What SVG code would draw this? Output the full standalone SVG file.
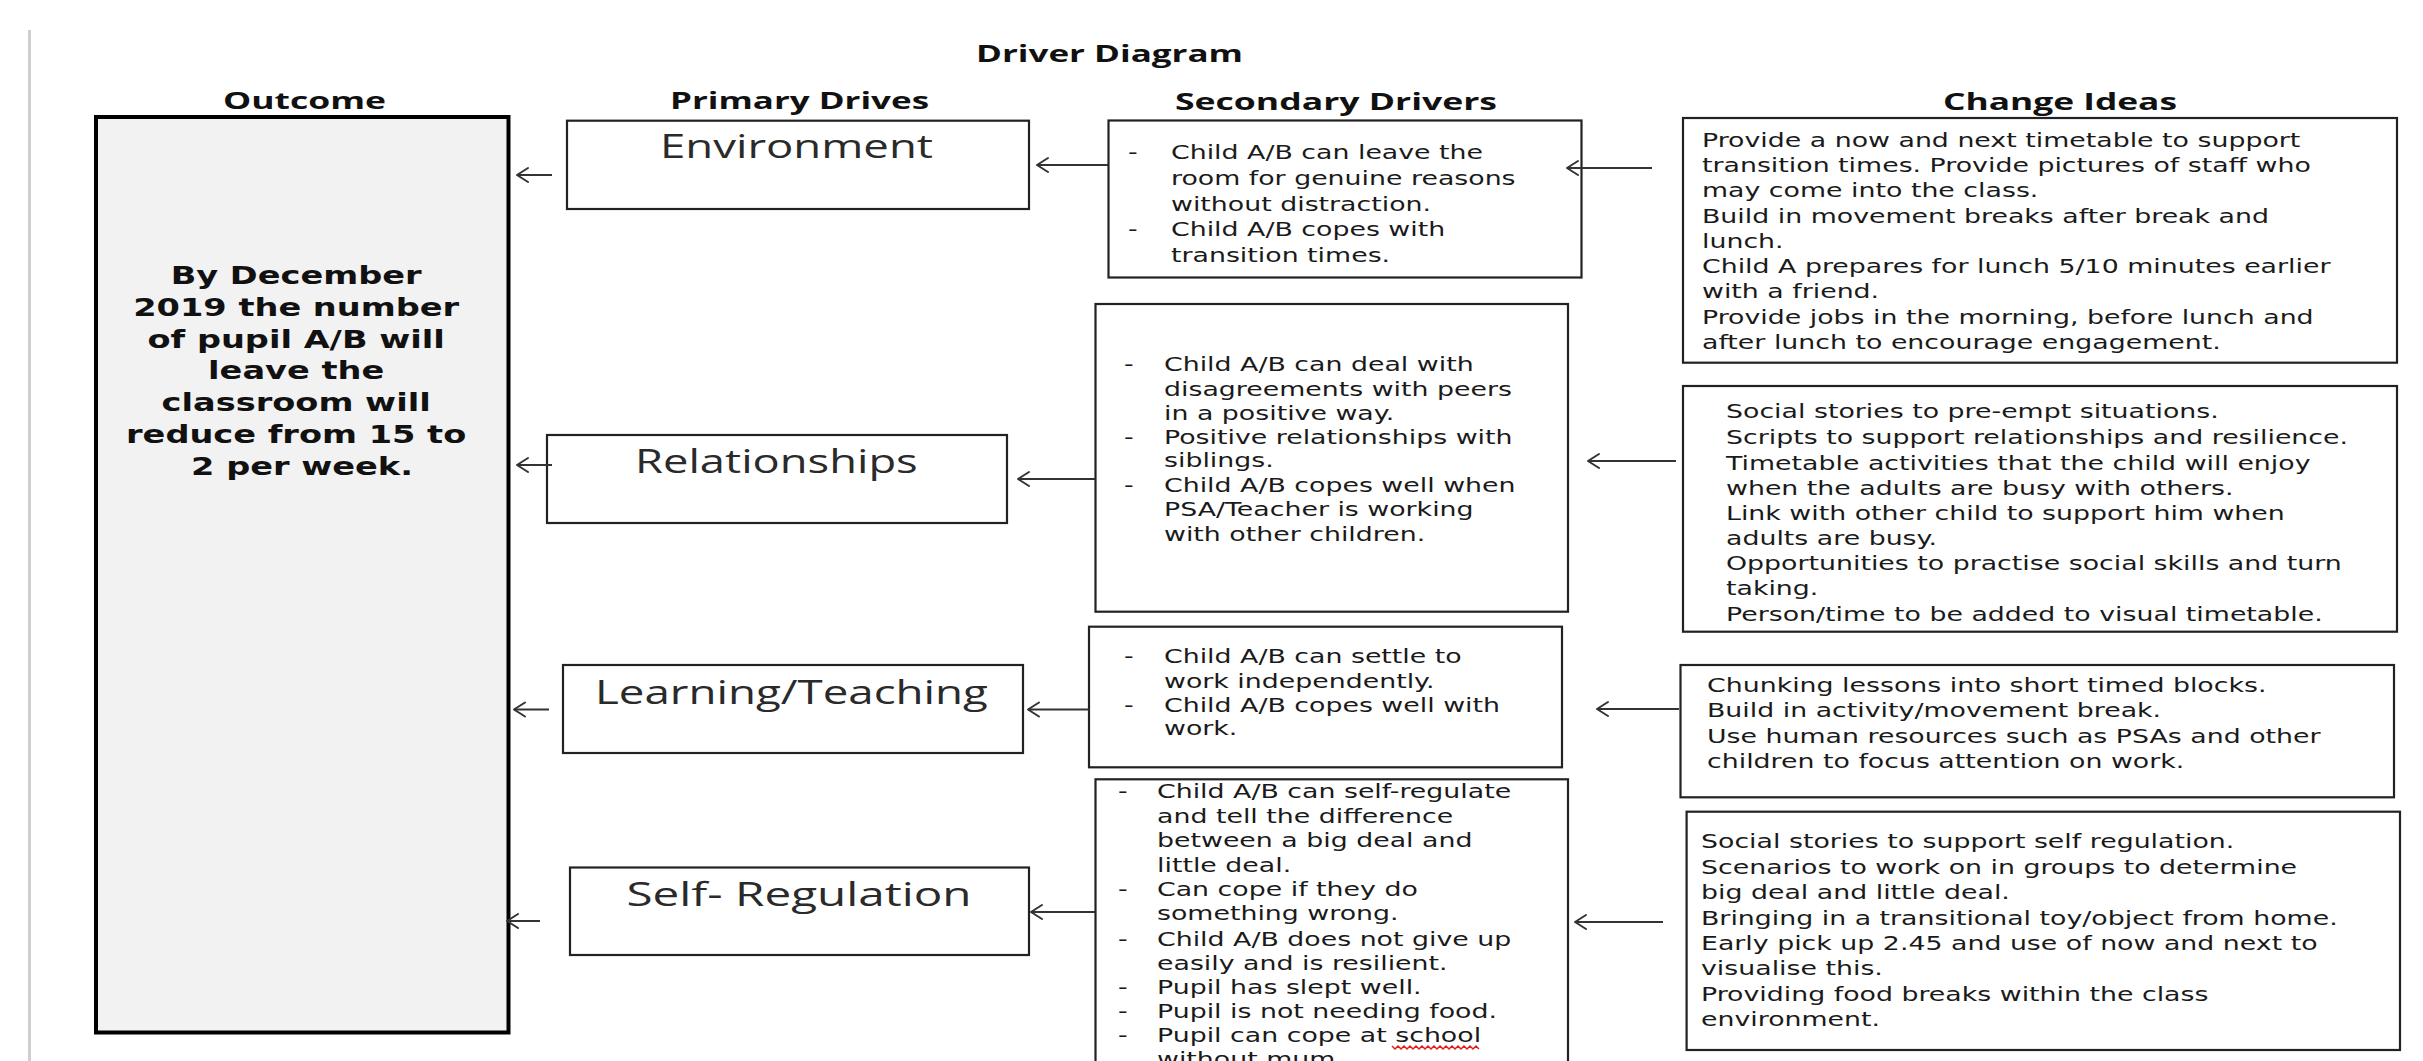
<svg xmlns="http://www.w3.org/2000/svg" width="2423" height="1061" viewBox="0 0 2423 1061">
<style>
.bg{fill:#ffffff}
.hdr{font-family:"Open Sans","Liberation Sans",sans-serif;font-weight:700;font-size:24px;fill:#111}
.box{fill:#ffffff;stroke:#222;stroke-width:2.2}
.outbox{fill:#f2f2f2;stroke:#000;stroke-width:4}
.pri{font-family:"Open Sans","DejaVu Sans",sans-serif;font-weight:400;font-size:32px;fill:#2a2a2a}
.b{font-family:"DejaVu Sans",sans-serif;font-size:19px;fill:#1a1a1a}
.ob{font-family:"DejaVu Sans",sans-serif;font-weight:700;font-size:24px;fill:#111;text-anchor:middle}
.con line{stroke:#333;stroke-width:2}
.con polyline{fill:none;stroke:#333;stroke-width:2;stroke-linecap:round;stroke-linejoin:round}
</style>
<rect class="bg" x="0" y="0" width="2423" height="1061"/>
<line x1="29.5" y1="30" x2="29.5" y2="1061" stroke="#cfcfcf" stroke-width="3"/>

<g id="headers">
<text class="hdr" x="976" y="61.7" textLength="267" lengthAdjust="spacingAndGlyphs">Driver Diagram</text>
<text class="hdr" x="223" y="109.3" textLength="163" lengthAdjust="spacingAndGlyphs">Outcome</text>
<text class="hdr" x="670" y="109.3" textLength="259" lengthAdjust="spacingAndGlyphs">Primary Drives</text>
<text class="hdr" x="1175" y="110" textLength="322" lengthAdjust="spacingAndGlyphs">Secondary Drivers</text>
<text class="hdr" x="1943" y="110" textLength="234" lengthAdjust="spacingAndGlyphs">Change Ideas</text>
</g>

<g id="outcome">
<rect class="outbox" x="96" y="117" width="412.5" height="915.5"/>
<text class="ob" transform="matrix(1.4 0 0 1 302 0)">
<tspan x="0" y="284.5">By December</tspan>
<tspan x="0" y="316">2019 the number</tspan>
<tspan x="0" y="347.7">of pupil A/B will</tspan>
<tspan x="0" y="379.5">leave the</tspan>
<tspan x="0" y="411.5">classroom will</tspan>
<tspan x="0" y="443.3">reduce from 15 to</tspan>
<tspan x="0" y="475">2 per week.</tspan>
</text>
</g>

<g id="primary-environment">
<rect class="box" x="567" y="120.7" width="462" height="88.3"/>
<text class="pri" x="660" y="157.5" textLength="273" lengthAdjust="spacingAndGlyphs">Environment</text>
</g>
<g id="primary-relationships">
<rect class="box" x="547" y="435" width="460" height="88"/>
<text class="pri" x="635" y="473.3" textLength="282.7" lengthAdjust="spacingAndGlyphs">Relationships</text>
</g>
<g id="primary-learning">
<rect class="box" x="563" y="665" width="460" height="88"/>
<text class="pri" x="595" y="704.2" textLength="392.8" lengthAdjust="spacingAndGlyphs">Learning/Teaching</text>
</g>
<g id="primary-selfregulation">
<rect class="box" x="570" y="867.5" width="459" height="87.5"/>
<text class="pri" x="626.4" y="906" textLength="345.2" lengthAdjust="spacingAndGlyphs">Self- Regulation</text>
</g>

<g id="secondary-environment">
<rect class="box" x="1108.5" y="120.5" width="473" height="157"/>
<text class="b" transform="matrix(1.41 0 0 1 1128 0)"><tspan x="0" y="159">-</tspan><tspan x="0" y="236.5">-</tspan></text>
<text class="b" transform="matrix(1.41 0 0 1 1171 0)">
<tspan x="0" y="159">Child A/B can leave the</tspan>
<tspan x="0" y="185">room for genuine reasons</tspan>
<tspan x="0" y="211">without distraction.</tspan>
<tspan x="0" y="236.5">Child A/B copes with</tspan>
<tspan x="0" y="262">transition times.</tspan>
</text>
</g>

<g id="secondary-relationships">
<rect class="box" x="1095.5" y="304" width="472.5" height="307.7"/>
<text class="b" transform="matrix(1.41 0 0 1 1124 0)"><tspan x="0" y="371.5">-</tspan><tspan x="0" y="444.5">-</tspan><tspan x="0" y="492">-</tspan></text>
<text class="b" transform="matrix(1.41 0 0 1 1164 0)">
<tspan x="0" y="371.5">Child A/B can deal with</tspan>
<tspan x="0" y="396">disagreements with peers</tspan>
<tspan x="0" y="420">in a positive way.</tspan>
<tspan x="0" y="444.5">Positive relationships with</tspan>
<tspan x="0" y="467">siblings.</tspan>
<tspan x="0" y="492">Child A/B copes well when</tspan>
<tspan x="0" y="516.5">PSA/Teacher is working</tspan>
<tspan x="0" y="541.5">with other children.</tspan>
</text>
</g>

<g id="secondary-learning">
<rect class="box" x="1089" y="626.7" width="473" height="140.6"/>
<text class="b" transform="matrix(1.41 0 0 1 1124 0)"><tspan x="0" y="663.5">-</tspan><tspan x="0" y="712">-</tspan></text>
<text class="b" transform="matrix(1.41 0 0 1 1164 0)">
<tspan x="0" y="663.5">Child A/B can settle to</tspan>
<tspan x="0" y="688">work independently.</tspan>
<tspan x="0" y="712">Child A/B copes well with</tspan>
<tspan x="0" y="735.5">work.</tspan>
</text>
</g>

<g id="secondary-selfregulation">
<rect class="box" x="1095.5" y="779.3" width="472.5" height="300"/>
<text class="b" transform="matrix(1.41 0 0 1 1118 0)"><tspan x="0" y="798">-</tspan><tspan x="0" y="896.5">-</tspan><tspan x="0" y="946">-</tspan><tspan x="0" y="994">-</tspan><tspan x="0" y="1018.5">-</tspan><tspan x="0" y="1042.5">-</tspan></text>
<text class="b" transform="matrix(1.41 0 0 1 1157 0)">
<tspan x="0" y="798">Child A/B can self-regulate</tspan>
<tspan x="0" y="823">and tell the difference</tspan>
<tspan x="0" y="847.5">between a big deal and</tspan>
<tspan x="0" y="872">little deal.</tspan>
<tspan x="0" y="896.5">Can cope if they do</tspan>
<tspan x="0" y="920.5">something wrong.</tspan>
<tspan x="0" y="946">Child A/B does not give up</tspan>
<tspan x="0" y="970">easily and is resilient.</tspan>
<tspan x="0" y="994">Pupil has slept well.</tspan>
<tspan x="0" y="1018.5">Pupil is not needing food.</tspan>
<tspan x="0" y="1042.5">Pupil can cope at school</tspan>
<tspan x="0" y="1066.5">without mum.</tspan>
</text>
<polyline points="1392,1046 1395,1049 1398,1046 1401,1049 1404,1046 1407,1049 1410,1046 1413,1049 1416,1046 1419,1049 1422,1046 1425,1049 1428,1046 1431,1049 1434,1046 1437,1049 1440,1046 1443,1049 1446,1046 1449,1049 1452,1046 1455,1049 1458,1046 1461,1049 1464,1046 1467,1049 1470,1046 1473,1049 1476,1046 1479,1049" fill="none" stroke="#e02020" stroke-width="1.5"/>
</g>

<g id="change-environment">
<rect class="box" x="1683" y="118" width="714" height="244.7"/>
<text class="b" transform="matrix(1.41 0 0 1 1702 0)">
<tspan x="0" y="147">Provide a now and next timetable to support</tspan>
<tspan x="0" y="172.5">transition times. Provide pictures of staff who</tspan>
<tspan x="0" y="197.5">may come into the class.</tspan>
<tspan x="0" y="223">Build in movement breaks after break and</tspan>
<tspan x="0" y="248.5">lunch.</tspan>
<tspan x="0" y="273.5">Child A prepares for lunch 5/10 minutes earlier</tspan>
<tspan x="0" y="298.5">with a friend.</tspan>
<tspan x="0" y="324">Provide jobs in the morning, before lunch and</tspan>
<tspan x="0" y="349.5">after lunch to encourage engagement.</tspan>
</text>
</g>

<g id="change-relationships">
<rect class="box" x="1683" y="386" width="714" height="245.7"/>
<text class="b" transform="matrix(1.41 0 0 1 1726 0)">
<tspan x="0" y="418.5">Social stories to pre-empt situations.</tspan>
<tspan x="0" y="444.5">Scripts to support relationships and resilience.</tspan>
<tspan x="0" y="470">Timetable activities that the child will enjoy</tspan>
<tspan x="0" y="495">when the adults are busy with others.</tspan>
<tspan x="0" y="520">Link with other child to support him when</tspan>
<tspan x="0" y="545.5">adults are busy.</tspan>
<tspan x="0" y="570.5">Opportunities to practise social skills and turn</tspan>
<tspan x="0" y="595.5">taking.</tspan>
<tspan x="0" y="621.5">Person/time to be added to visual timetable.</tspan>
</text>
</g>

<g id="change-learning">
<rect class="box" x="1680.5" y="665" width="713.5" height="132.3"/>
<text class="b" transform="matrix(1.41 0 0 1 1707 0)">
<tspan x="0" y="692">Chunking lessons into short timed blocks.</tspan>
<tspan x="0" y="717.5">Build in activity/movement break.</tspan>
<tspan x="0" y="743">Use human resources such as PSAs and other</tspan>
<tspan x="0" y="768.5">children to focus attention on work.</tspan>
</text>
</g>

<g id="change-selfregulation">
<rect class="box" x="1686.6" y="811.7" width="713.4" height="238.3"/>
<text class="b" transform="matrix(1.41 0 0 1 1701 0)">
<tspan x="0" y="848.5">Social stories to support self regulation.</tspan>
<tspan x="0" y="874">Scenarios to work on in groups to determine</tspan>
<tspan x="0" y="899.5">big deal and little deal.</tspan>
<tspan x="0" y="925">Bringing in a transitional toy/object from home.</tspan>
<tspan x="0" y="950">Early pick up 2.45 and use of now and next to</tspan>
<tspan x="0" y="975.5">visualise this.</tspan>
<tspan x="0" y="1001">Providing food breaks within the class</tspan>
<tspan x="0" y="1026">environment.</tspan>
</text>
</g>

<g id="connectors" class="con">
<line x1="517" y1="175" x2="552" y2="175"/><polyline points="528,168 517,175 528,182"/>
<line x1="517" y1="465" x2="552" y2="465"/><polyline points="528,458 517,465 528,472"/>
<line x1="514" y1="709.5" x2="549" y2="709.5"/><polyline points="525,702.5 514,709.5 525,716.5"/>
<line x1="507" y1="921" x2="540" y2="921"/><polyline points="518,914 507,921 518,928"/>
<line x1="1037" y1="165" x2="1108" y2="165"/><polyline points="1048,158 1037,165 1048,172"/>
<line x1="1018" y1="479" x2="1095" y2="479"/><polyline points="1029,472 1018,479 1029,486"/>
<line x1="1028" y1="709.5" x2="1089" y2="709.5"/><polyline points="1039,702.5 1028,709.5 1039,716.5"/>
<line x1="1031" y1="912" x2="1095" y2="912"/><polyline points="1042,905 1031,912 1042,919"/>
<line x1="1567" y1="168" x2="1652" y2="168"/><polyline points="1578,161 1567,168 1578,175"/>
<line x1="1588" y1="461" x2="1676" y2="461"/><polyline points="1599,454 1588,461 1599,468"/>
<line x1="1597" y1="709" x2="1679" y2="709"/><polyline points="1608,702 1597,709 1608,716"/>
<line x1="1575" y1="922" x2="1663" y2="922"/><polyline points="1586,915 1575,922 1586,929"/>
</g>
</svg>
